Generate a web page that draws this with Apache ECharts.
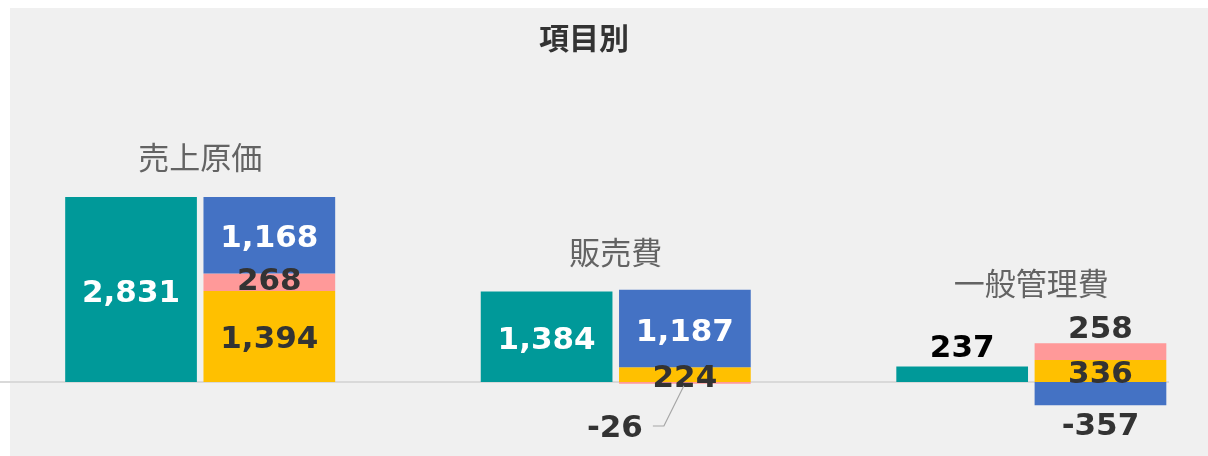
<!DOCTYPE html>
<html>
<head>
<meta charset="utf-8">
<title>項目別</title>
<script src="https://cdn.jsdelivr.net/npm/echarts@6/dist/echarts.min.js"></script>
<style>
	html, body { margin: 0; padding: 0; background: #ffffff; }
	#echart-container { width: 1208px; height: 456px; }
</style>
</head>
<body>
<div id="echart-container"></div>
<script>
// 項目
var categories = ['売上原価', '販売費', '一般管理費'];
// 合計（左の棒）
var totalValues = [2831, 1384, 237];
// 内訳（右の積み上げ棒）下から順に
var yellowValues = [1394, 224, 336];
var pinkValues = [268, -26, 258];
var blueValues = [1168, 1187, -357];

(function(){
	"use strict";

	var LABEL_FONT = '"DejaVu Sans", sans-serif';
	var CJK_FONT = '"Noto Sans CJK JP", sans-serif';
	var DARK = '#333333';

	var dom = document.getElementById("echart-container");
	var myChart = echarts.init(dom, null, { renderer: 'canvas' });

	function fmt(v){
		var s = Math.abs(v).toString().replace(/\B(?=(\d{3})+(?!\d))/g, ',');
		return (v < 0 ? '-' : '') + s;
	}

	function baseLabel(color){
		return {
			show: true,
			position: 'inside',
			offset: [0, 4],
			color: color,
			fontFamily: LABEL_FONT,
			fontWeight: 'bold',
			fontSize: 31,
			formatter: function(p){ return fmt(p.value); }
		};
	}

	/**
	 * 個別のラベル位置
	 */
	var itemLabels = {
		total: [null, null, { position: 'top', distance: 2, offset: [0, 0], color: '#000000' }],
		yellow: [null, null, null],
		pink: [null, null, { position: 'top', distance: -2, offset: [0, 0] }],
		blue: [null, null, { position: 'bottom', distance: 6, offset: [0, 0], color: DARK }]
	};

	function toData(values, key){
		return values.map(function(v, i){
			var item = { value: v };
			if (itemLabels[key][i]) {
				item.label = itemLabels[key][i];
			}
			return item;
		});
	}

	// 項目名の高さ = グループの一番上
	var groupTops = categories.map(function(c, i){
		var pos = 0;
		[yellowValues[i], pinkValues[i], blueValues[i]].forEach(function(v){
			if (v > 0) pos += v;
		});
		return Math.max(totalValues[i], pos);
	});
	var catLabelGap = [24, 22, 44];

	var barW = 131.7;
	// -26 のラベルをずらす量
	var moveLabel = { dx: -70, dy: 46 };

	var bgRect = {
		type: 'rect',
		id: 'bg',
		z: -10,
		silent: true,
		shape: { x: 10, y: 8, width: 1198, height: 448 },
		style: { fill: '#f0f0f0' }
	};
	var titleText = {
		type: 'text',
		id: 'title',
		silent: true,
		style: {
			text: '項目別',
			x: 584,
			y: 38,
			textAlign: 'center',
			textVerticalAlign: 'middle',
			font: 'bold 30px "Noto Sans CJK JP"',
			fill: DARK
		}
	};

	var option = {
		backgroundColor: '#ffffff',
		animation: false,
		grid: {
			left: -7.6,
			width: 1246.7,
			top: 120.6,
			height: 326.75,
			outerBoundsMode: 'none',
			containLabel: false
		},
		xAxis: {
			type: 'category',
			data: categories,
			show: false
		},
		yAxis: {
			type: 'value',
			min: -1000,
			max: 4000,
			show: false
		},
		graphic: [bgRect, titleText],
		series: [
			{
				name: 'total',
				type: 'bar',
				barWidth: barW,
				barGap: '5%',
				itemStyle: { color: '#009999' },
				label: baseLabel('#ffffff'),
				data: toData(totalValues, 'total')
			},
			{
				name: 'yellow',
				type: 'bar',
				stack: 'detail',
				barWidth: barW,
				itemStyle: { color: '#ffc000' },
				label: baseLabel(DARK),
				data: toData(yellowValues, 'yellow')
			},
			{
				name: 'pink',
				type: 'bar',
				stack: 'detail',
				barWidth: barW,
				itemStyle: { color: '#ff9999' },
				label: baseLabel(DARK),
				labelLayout: function(p){
					// -26 は小さいので外に出す
					if (p.dataIndex === 1) {
						return moveLabel;
					}
				},
				data: toData(pinkValues, 'pink')
			},
			{
				name: 'blue',
				type: 'bar',
				stack: 'detail',
				barWidth: barW,
				itemStyle: { color: '#4472c4' },
				label: baseLabel('#ffffff'),
				data: toData(blueValues, 'blue')
			},
			{
				name: 'category',
				type: 'scatter',
				symbolSize: 0,
				silent: true,
				z: 5,
				label: {
					show: true,
					position: 'top',
					color: '#404040',
					fontFamily: CJK_FONT,
					fontSize: 31,
					formatter: function(p){ return categories[p.dataIndex]; }
				},
				data: groupTops.map(function(v, i){
					return { value: v, label: { distance: catLabelGap[i] } };
				})
			}
		]
	};

	myChart.setOption(option, true);

	// ゼロ線と -26 の引き出し線
	var zeroY = myChart.convertToPixel({ yAxisIndex: 0 }, 0);
	var pinkBar = myChart.getModel().getSeriesByIndex(2).getData().getItemLayout(1);
	var barCx = pinkBar.x + pinkBar.width / 2;
	var barBottom = Math.max(pinkBar.y, pinkBar.y + pinkBar.height);
	var lblY = zeroY + 44;

	myChart.setOption({
		graphic: [
			bgRect,
			titleText,
			{
				type: 'line',
				id: 'zero',
				z: 1,
				silent: true,
				shape: { x1: 0, y1: zeroY, x2: 1169, y2: zeroY },
				style: { stroke: '#d9d9d9', lineWidth: 2 }
			},
			{
				type: 'polyline',
				id: 'leader',
				z: 3,
				silent: true,
				shape: {
					points: [
						[barCx + moveLabel.dx + 38, lblY],
						[barCx + moveLabel.dx + 49, lblY],
						[barCx - 1, barBottom + 2]
					]
				},
				style: { stroke: '#a6a6a6', lineWidth: 1.2, fill: null }
			}
		]
	});
})();
</script>
</body>
</html>
